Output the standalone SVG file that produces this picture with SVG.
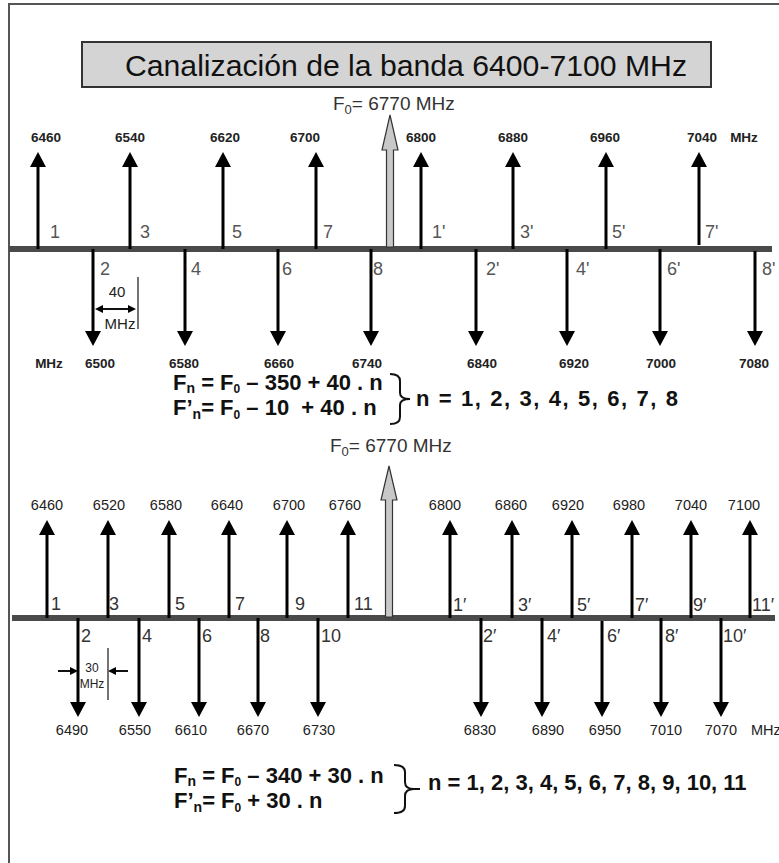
<svg xmlns="http://www.w3.org/2000/svg" width="779" height="863" viewBox="0 0 779 863">
<style>
text{font-family:"Liberation Sans",Arial,sans-serif;}
.frame{fill:none;stroke:#555;stroke-width:2;}
.axis{stroke:#4a4a4a;stroke-width:6;}
.ch{stroke:#000;stroke-width:3;}
.dim{stroke:#111;stroke-width:2;}
.tick{stroke:#444;stroke-width:1.5;}
.f0{fill:#c8c8c8;stroke:#333;stroke-width:1.2;}
.vt{font-size:13.5px;fill:#222;text-anchor:middle;font-weight:bold;}
.vb{font-size:14.5px;fill:#222;text-anchor:middle;}
.vbs{font-size:14.5px;fill:#222;}
.lt{font-size:18px;fill:#555;}
.lb{font-size:18px;fill:#333;}
.f0t{font-size:19px;fill:#333;}
.fm{font-size:22px;font-weight:bold;fill:#111;}
.sb{font-size:14px;}
.sz{font-size:12px;}
.brace{fill:none;stroke:#111;stroke-width:2;}
.dl{font-size:15px;fill:#222;text-anchor:middle;}
.ds{font-size:12px;fill:#222;text-anchor:middle;}
</style>
<defs>
<marker id="ah" viewBox="0 -8 15 16" refX="0" refY="0" markerWidth="15" markerHeight="16" markerUnits="userSpaceOnUse" orient="auto"><path d="M0,-8 L15,0 L0,8 Z" fill="#000"/></marker>
<marker id="sa" viewBox="0 -4 8 8" refX="0" refY="0" markerWidth="8" markerHeight="8" markerUnits="userSpaceOnUse" orient="auto-start-reverse"><path d="M0,-4 L8,0 L0,4 Z" fill="#000"/></marker>
</defs>
<rect width="779" height="863" fill="#fff"/>
<path class="frame" d="M9,870 L9,4 L790,4"/>
<g id="title">
<rect x="82" y="42" width="629" height="45" fill="#d4d4d4" stroke="#333" stroke-width="2"/>
<text x="406" y="76" font-size="30" fill="#111" text-anchor="middle" textLength="562" lengthAdjust="spacingAndGlyphs">Canalización de la banda 6400-7100 MHz</text>
</g>

<g id="connectors">
<line class="axis" x1="9" y1="249" x2="772" y2="249"/>
<line class="axis" x1="12" y1="618" x2="775" y2="618"/>
<!-- top up -->
<line class="ch" x1="38" y1="249" x2="38" y2="167" marker-end="url(#ah)"/>
<line class="ch" x1="130" y1="249" x2="130" y2="167" marker-end="url(#ah)"/>
<line class="ch" x1="223" y1="249" x2="223" y2="167" marker-end="url(#ah)"/>
<line class="ch" x1="316" y1="249" x2="316" y2="167" marker-end="url(#ah)"/>
<line class="ch" x1="421" y1="249" x2="421" y2="167" marker-end="url(#ah)"/>
<line class="ch" x1="513" y1="249" x2="513" y2="167" marker-end="url(#ah)"/>
<line class="ch" x1="606" y1="249" x2="606" y2="167" marker-end="url(#ah)"/>
<line class="ch" x1="699" y1="245" x2="699" y2="167" marker-end="url(#ah)"/>
<!-- top down -->
<line class="ch" x1="93" y1="249" x2="93" y2="331" marker-end="url(#ah)"/>
<line class="ch" x1="185" y1="249" x2="185" y2="331" marker-end="url(#ah)"/>
<line class="ch" x1="278" y1="249" x2="278" y2="331" marker-end="url(#ah)"/>
<line class="ch" x1="371" y1="249" x2="371" y2="331" marker-end="url(#ah)"/>
<line class="ch" x1="476" y1="249" x2="476" y2="331" marker-end="url(#ah)"/>
<line class="ch" x1="567" y1="249" x2="567" y2="331" marker-end="url(#ah)"/>
<line class="ch" x1="660" y1="249" x2="660" y2="331" marker-end="url(#ah)"/>
<line class="ch" x1="755" y1="251" x2="755" y2="331" marker-end="url(#ah)"/>
<!-- bottom up -->
<line class="ch" x1="47" y1="618" x2="47" y2="535" marker-end="url(#ah)"/>
<line class="ch" x1="108" y1="618" x2="108" y2="535" marker-end="url(#ah)"/>
<line class="ch" x1="169" y1="618" x2="169" y2="535" marker-end="url(#ah)"/>
<line class="ch" x1="229" y1="618" x2="229" y2="535" marker-end="url(#ah)"/>
<line class="ch" x1="287" y1="618" x2="287" y2="535" marker-end="url(#ah)"/>
<line class="ch" x1="348" y1="618" x2="348" y2="535" marker-end="url(#ah)"/>
<line class="ch" x1="450" y1="618" x2="450" y2="535" marker-end="url(#ah)"/>
<line class="ch" x1="512" y1="618" x2="512" y2="535" marker-end="url(#ah)"/>
<line class="ch" x1="572" y1="618" x2="572" y2="535" marker-end="url(#ah)"/>
<line class="ch" x1="632" y1="618" x2="632" y2="535" marker-end="url(#ah)"/>
<line class="ch" x1="691" y1="618" x2="691" y2="535" marker-end="url(#ah)"/>
<line class="ch" x1="750" y1="618" x2="750" y2="535" marker-end="url(#ah)"/>
<!-- bottom down -->
<line class="ch" x1="78" y1="618" x2="78" y2="702" marker-end="url(#ah)"/>
<line class="ch" x1="139" y1="618" x2="139" y2="702" marker-end="url(#ah)"/>
<line class="ch" x1="199" y1="618" x2="199" y2="702" marker-end="url(#ah)"/>
<line class="ch" x1="258" y1="618" x2="258" y2="702" marker-end="url(#ah)"/>
<line class="ch" x1="318" y1="618" x2="318" y2="702" marker-end="url(#ah)"/>
<line class="ch" x1="481" y1="618" x2="481" y2="702" marker-end="url(#ah)"/>
<line class="ch" x1="542" y1="618" x2="542" y2="702" marker-end="url(#ah)"/>
<line class="ch" x1="602" y1="621" x2="602" y2="702" marker-end="url(#ah)"/>
<line class="ch" x1="661" y1="618" x2="661" y2="702" marker-end="url(#ah)"/>
<line class="ch" x1="721" y1="618" x2="721" y2="702" marker-end="url(#ah)"/>
<!-- F0 arrows -->
<path class="f0" d="M386.5,247 L386.5,150 L382,150 L390,115 L398,150 L393.5,150 L393.5,247 Z"/>
<path class="f0" d="M385.5,617 L385.5,500 L381,500 L389,466 L397,500 L392.5,500 L392.5,617 Z"/>
<!-- dimension 40 MHz -->
<line class="tick" x1="138" y1="277" x2="138" y2="329"/>
<line class="dim" x1="103" y1="309" x2="128" y2="309" marker-start="url(#sa)" marker-end="url(#sa)"/>
<!-- dimension 30 MHz -->
<line class="tick" x1="108" y1="648" x2="108" y2="700"/>
<line class="dim" x1="58" y1="671" x2="70" y2="671" marker-end="url(#sa)"/>
<line class="dim" x1="128" y1="671" x2="116" y2="671" marker-end="url(#sa)"/>
</g>

<g id="top-up-values">
<text class="vt" x="46" y="142">6460</text>
<text class="vt" x="130" y="142">6540</text>
<text class="vt" x="225" y="142">6620</text>
<text class="vt" x="305" y="142">6700</text>
<text class="vt" x="421" y="142">6800</text>
<text class="vt" x="513" y="142">6880</text>
<text class="vt" x="605" y="142">6960</text>
<text class="vt" x="702" y="142">7040</text>
<text class="vt" x="744" y="142">MHz</text>
</g>
<g id="top-up-labels">
<text class="lt" x="50" y="238">1</text>
<text class="lt" x="140" y="238">3</text>
<text class="lt" x="232" y="238">5</text>
<text class="lt" x="323" y="238">7</text>
<text class="lt" x="432" y="238">1'</text>
<text class="lt" x="520" y="238">3'</text>
<text class="lt" x="612" y="238">5'</text>
<text class="lt" x="705" y="238">7'</text>
</g>
<g id="top-down-labels">
<text class="lt" x="100" y="275">2</text>
<text class="lt" x="191" y="275">4</text>
<text class="lt" x="282" y="275">6</text>
<text class="lt" x="373" y="275">8</text>
<text class="lt" x="486" y="275">2'</text>
<text class="lt" x="576" y="275">4'</text>
<text class="lt" x="667" y="275">6'</text>
<text class="lt" x="762" y="275">8'</text>
</g>
<g id="top-down-values">
<text class="vt" x="49" y="368">MHz</text>
<text class="vt" x="100" y="368">6500</text>
<text class="vt" x="184" y="368">6580</text>
<text class="vt" x="279" y="368">6660</text>
<text class="vt" x="367" y="368">6740</text>
<text class="vt" x="482" y="368">6840</text>
<text class="vt" x="574" y="368">6920</text>
<text class="vt" x="661" y="368">7000</text>
<text class="vt" x="754" y="368">7080</text>
</g>
<g id="top-f0">
<text class="f0t" x="333" y="110">F<tspan font-size="13" dy="4">0</tspan><tspan dy="-4">= 6770 MHz</tspan></text>
</g>
<g id="dim-40">
<text class="dl" x="117" y="297">40</text>
<text class="dl" x="120" y="329">MHz</text>
</g>
<g id="top-formula">
<text class="fm" x="173" y="390">F<tspan class="sb" dy="3">n</tspan><tspan dy="-3"> = F</tspan><tspan class="sz" dy="3">0</tspan><tspan dy="-3"> – 350 + 40 . n</tspan></text>
<text class="fm" x="173" y="415">F’<tspan class="sb" dy="4">n</tspan><tspan dy="-4">= F</tspan><tspan class="sz" dy="4">0</tspan><tspan dy="-4"> – 10 &#160;+ 40 . n</tspan></text>
<path class="brace" d="M390,374 Q400,374 400,381 L400,393 Q400,399 410,399 Q400,399 400,405 L400,417 Q400,424 390,424"/>
<text class="fm" x="416" y="406" font-size="23" textLength="262" lengthAdjust="spacing">n = 1, 2, 3, 4, 5, 6, 7, 8</text>
</g>

<g id="bottom-f0">
<text class="f0t" x="330" y="452">F<tspan font-size="13" dy="4">0</tspan><tspan dy="-4">= 6770 MHz</tspan></text>
</g>
<g id="bottom-up-values">
<text class="vb" x="47" y="510">6460</text>
<text class="vb" x="109" y="510">6520</text>
<text class="vb" x="166" y="510">6580</text>
<text class="vb" x="227" y="510">6640</text>
<text class="vb" x="289" y="510">6700</text>
<text class="vb" x="345" y="510">6760</text>
<text class="vb" x="445" y="510">6800</text>
<text class="vb" x="511" y="510">6860</text>
<text class="vb" x="568" y="510">6920</text>
<text class="vb" x="629" y="510">6980</text>
<text class="vb" x="691" y="510">7040</text>
<text class="vb" x="744" y="510">7100</text>
</g>
<g id="bottom-up-labels">
<text class="lb" x="51" y="610">1</text>
<text class="lb" x="109" y="610">3</text>
<text class="lb" x="175" y="610">5</text>
<text class="lb" x="235" y="610">7</text>
<text class="lb" x="295" y="610">9</text>
<text class="lb" x="354" y="610">11</text>
<text class="lb" x="453" y="611">1′</text>
<text class="lb" x="518" y="611">3′</text>
<text class="lb" x="577" y="611">5′</text>
<text class="lb" x="635" y="611">7′</text>
<text class="lb" x="693" y="611">9′</text>
<text class="lb" x="752" y="611">11′</text>
</g>
<g id="bottom-down-labels">
<text class="lb" x="81" y="642">2</text>
<text class="lb" x="142" y="642">4</text>
<text class="lb" x="202" y="642">6</text>
<text class="lb" x="260" y="642">8</text>
<text class="lb" x="321" y="642">10</text>
<text class="lb" x="483" y="642">2′</text>
<text class="lb" x="547" y="642">4′</text>
<text class="lb" x="607" y="642">6′</text>
<text class="lb" x="665" y="642">8′</text>
<text class="lb" x="723" y="642">10′</text>
</g>
<g id="bottom-down-values">
<text class="vb" x="72" y="735">6490</text>
<text class="vb" x="135" y="735">6550</text>
<text class="vb" x="191" y="735">6610</text>
<text class="vb" x="253" y="735">6670</text>
<text class="vb" x="319" y="735">6730</text>
<text class="vb" x="480" y="735">6830</text>
<text class="vb" x="548" y="735">6890</text>
<text class="vb" x="605" y="735">6950</text>
<text class="vb" x="666" y="735">7010</text>
<text class="vb" x="721" y="735">7070</text>
<text class="vbs" x="751" y="735">MHz</text>
</g>
<g id="dim-30">
<text class="ds" x="92" y="672">30</text>
<text class="ds" x="92" y="688">MHz</text>
</g>
<g id="bottom-formula">
<text class="fm" x="174" y="783">F<tspan class="sb" dy="3">n</tspan><tspan dy="-3"> = F</tspan><tspan class="sz" dy="3">0</tspan><tspan dy="-3"> – 340 + 30 . n</tspan></text>
<text class="fm" x="174" y="808">F’<tspan class="sb" dy="4">n</tspan><tspan dy="-4">= F</tspan><tspan class="sz" dy="4">0</tspan><tspan dy="-4"> + 30 . n</tspan></text>
<path class="brace" d="M394,765 Q405,765 405,772 L405,782 Q405,789 414,789 L420,789 M414,789 Q405,789 405,796 L405,806 Q405,813 394,813"/>
<text class="fm" x="428" y="790">n = 1, 2, 3, 4, 5, 6, 7, 8, 9, 10, 11</text>
</g>
</svg>
